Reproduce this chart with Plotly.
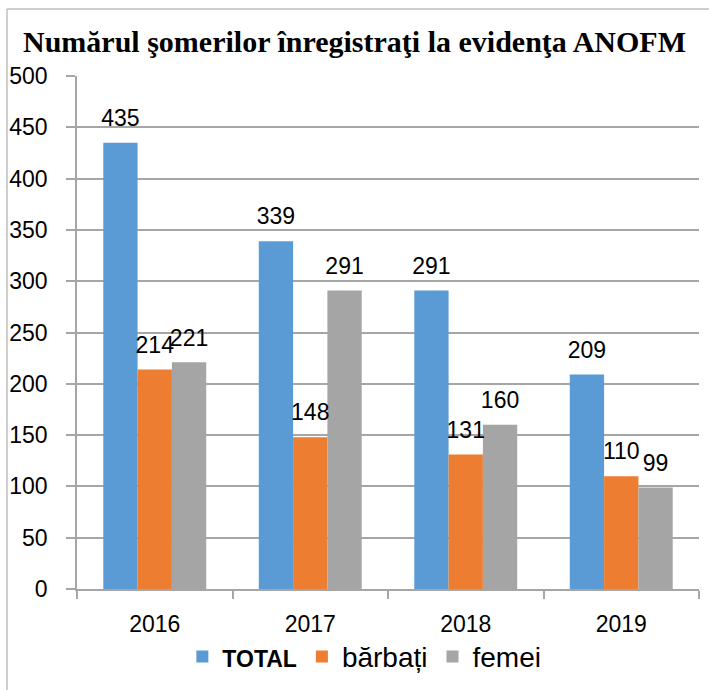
import plotly.graph_objects as go

years = ["2016", "2017", "2018", "2019"]
total = [435, 339, 291, 209]
barbati = [214, 148, 131, 110]
femei = [221, 291, 160, 99]

series_names = ["<b><span style='font-size:23px'>TOTAL</span></b>", "bărbați", "femei"]
series_values = [total, barbati, femei]
colors = ["#5B9BD5", "#ED7D31", "#A5A5A5"]

title_text = "Numărul şomerilor înregistraţi la evidenţa ANOFM"
y_ticks = [0, 50, 100, 150, 200, 250, 300, 350, 400, 450, 500]

fig = go.Figure()
for i, (name, vals, col) in enumerate(zip(series_names, series_values, colors)):
    fig.add_trace(go.Bar(
        x=years, y=vals, name=name, marker=dict(color=col, line=dict(width=0)),
        offsetgroup=str(i), alignmentgroup="a",
    ))
for i, (vals, col) in enumerate(zip(series_values, colors)):
    fig.add_trace(go.Scatter(
        x=years, y=vals, mode="markers+text", text=[str(v) for v in vals],
        textposition="top center", showlegend=False, hoverinfo="skip",
        marker=dict(size=16, opacity=0, color=col),
        textfont=dict(family="Liberation Sans", size=23, color="#000000"),
        offsetgroup=str(i), alignmentgroup="a", cliponaxis=False,
    ))

grid_col = "#A6A6A6"
fig.update_layout(
    width=709, height=690,
    margin=dict(l=77, r=10, t=76, b=101, autoexpand=False),
    paper_bgcolor="white", plot_bgcolor="white",
    barmode="group", bargap=0.338, bargroupgap=0,
    scattermode="group", scattergap=0.338,
    title=dict(text="<b>" + title_text + "</b>", x=0.5, xanchor="center",
               y=1 - 41 / 690, yanchor="middle",
               font=dict(family="Liberation Serif", size=30, color="#000000")),
    font=dict(family="Liberation Sans", size=23, color="#000000"),
    showlegend=True,
    legend=dict(orientation="h", x=0.462, xanchor="center", y=-0.132, yanchor="middle",
                font=dict(family="Liberation Sans", size=28, color="#000000"),
                itemsizing="constant", traceorder="normal", itemwidth=30,
                bgcolor="rgba(0,0,0,0)"),
    hovermode=False,
    shapes=[
        dict(type="line", xref="paper", yref="paper", x0=(7 - 77) / 622, x1=(709 - 77) / 622,
             y0=(589 - 9) / 513, y1=(589 - 9) / 513, line=dict(color="#BFBFBF", width=1.5)),
        dict(type="line", xref="paper", yref="paper", x0=(7 - 77) / 622, x1=(7 - 77) / 622,
             y0=(589 - 9) / 513, y1=(589 - 700) / 513, line=dict(color="#BFBFBF", width=1.5)),
    ],
)
fig.update_xaxes(
    type="category", showline=True, linecolor=grid_col, linewidth=1.5,
    ticks="outside", tickson="boundaries", ticklen=8, tickcolor=grid_col, tickwidth=1.5,
    tickfont=dict(family="Liberation Sans", size=23), ticklabelstandoff=14,
    showgrid=False, automargin=False,
)
fig.update_yaxes(
    range=[0, 500], tickvals=y_ticks, showline=True, linecolor=grid_col, linewidth=1.5,
    ticks="outside", ticklen=9, tickcolor=grid_col, tickwidth=1.5,
    showgrid=True, gridcolor=grid_col, gridwidth=1.5, zeroline=False,
    tickfont=dict(family="Liberation Sans", size=23), ticklabelstandoff=14,
    automargin=False,
)

fig.write_html("out.html", config={"displayModeBar": False},
               post_script="document.body.style.margin='0';")
